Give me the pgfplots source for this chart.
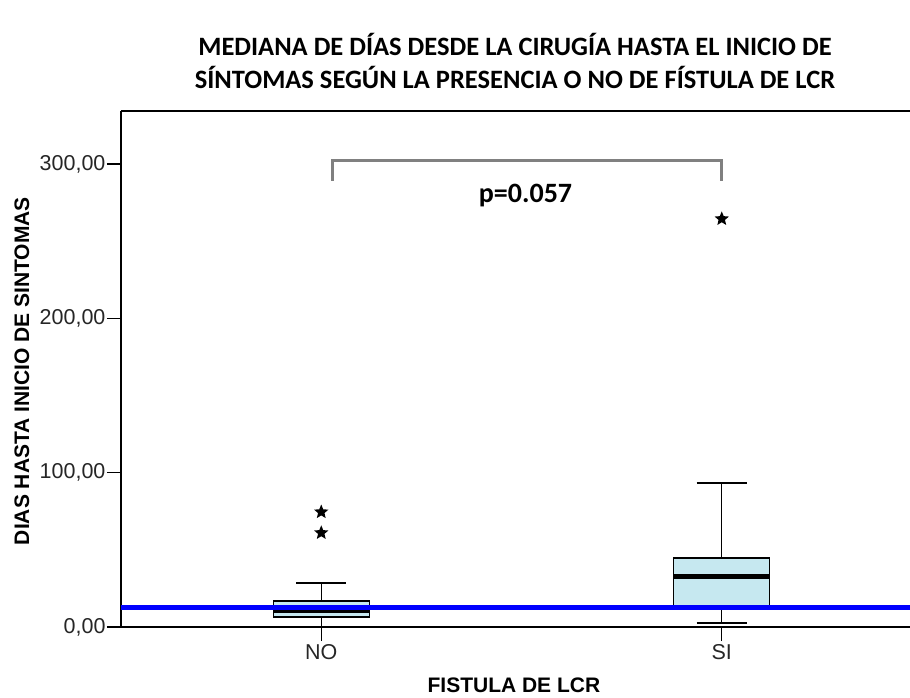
\documentclass[border=0pt]{standalone}
\usepackage{pgfplots}
\pgfplotsset{compat=1.18}
\usepgfplotslibrary{statistics}
\usepackage{fontspec}
\setmainfont{Liberation Sans}
\newfontfamily\calibri{Carlito}

\definecolor{boxfill}{RGB}{198,232,240}
\definecolor{brackgray}{RGB}{128,128,128}
\definecolor{refblue}{RGB}{0,0,255}

% filled five-pointed star for the extreme values
\pgfdeclareplotmark{fstar}{%
  \pgfpathmoveto{\pgfpointpolar{90}{\pgfplotmarksize}}%
  \pgfpathlineto{\pgfpointpolar{126}{0.45*\pgfplotmarksize}}%
  \pgfpathlineto{\pgfpointpolar{162}{\pgfplotmarksize}}%
  \pgfpathlineto{\pgfpointpolar{198}{0.45*\pgfplotmarksize}}%
  \pgfpathlineto{\pgfpointpolar{234}{\pgfplotmarksize}}%
  \pgfpathlineto{\pgfpointpolar{270}{0.45*\pgfplotmarksize}}%
  \pgfpathlineto{\pgfpointpolar{306}{\pgfplotmarksize}}%
  \pgfpathlineto{\pgfpointpolar{342}{0.45*\pgfplotmarksize}}%
  \pgfpathlineto{\pgfpointpolar{18}{\pgfplotmarksize}}%
  \pgfpathlineto{\pgfpointpolar{54}{0.45*\pgfplotmarksize}}%
  \pgfpathclose\pgfusepathqfill}

\begin{document}
\begin{tikzpicture}
\useasboundingbox (-121pt,-71pt) rectangle (789pt,627pt);
\begin{axis}[
  at={(0,0)}, anchor=south west,
  scale only axis, width=789pt, height=516pt,
  xmin=0.5, xmax=2.47, ymin=0, ymax=334.3,
  axis lines*=left,
  axis line style={line width=1.3pt},
  tick align=outside, major tick length=14pt,
  tick style={line width=1.3pt, black},
  xtick={1,2}, xticklabels={NO,SI},
  ytick={0,100,200,300},
  yticklabels={{0,00},{100,00},{200,00},{300,00}},
  ticklabel style={font=\fontsize{21.5}{25}\selectfont, text=black!85},
  yticklabel style={xshift=2pt},
  xlabel={FISTULA DE LCR},
  ylabel={DIAS HASTA INICIO DE SINTOMAS},
  label style={font=\bfseries\fontsize{21}{24}\selectfont},
  xlabel style={at={(axis description cs:0.498,0)}, anchor=base, yshift=-66pt},
  ylabel style={at={(axis description cs:-0.1166,0.496)}, anchor=base, rotate=0},
  clip=false,
  boxplot/draw direction=y,
  boxplot/box extend=0.24,
  boxplot/whisker extend=0.125,
  boxplot/every box/.style={draw=black, line width=1.3pt, fill=boxfill},
  boxplot/every whisker/.style={black, line width=1.3pt},
  boxplot/every median/.style={black, line width=5pt},
]
% NO
\addplot[black, solid, mark=fstar, mark size=7.5pt,
  boxplot prepared={draw position=1, lower whisker=0.5, lower quartile=6.5,
    median=11, upper quartile=16.8, upper whisker=28.5}]
  coordinates {(0,61) (0,74.5)};
% SI
\addplot[black, solid, mark=fstar, mark size=7.5pt,
  boxplot prepared={draw position=2, lower whisker=2.6, lower quartile=12.3,
    median=32.4, upper quartile=44.7, upper whisker=93.3}]
  coordinates {(0,264.4)};
% reference line
\addplot[refblue, line width=4.5pt, forget plot] coordinates {(0.5,12.7) (2.47,12.7)};
% top frame line
\draw[black, line width=1.3pt] (rel axis cs:0,1) -- (rel axis cs:1,1);
% comparison bracket
\draw[brackgray, line width=3pt] (axis cs:1.028,289) -- (axis cs:1.028,302)
  -- (axis cs:2.0,302) -- (axis cs:2.0,289);
\node[font=\calibri\bfseries\fontsize{28}{33}\selectfont, anchor=base]
  at (axis cs:1.51,275) {p=0.057};
\end{axis}
\node[font=\calibri\bfseries\fontsize{26.5}{31}\selectfont, anchor=base] at (394pt,571pt)
  {MEDIANA DE DÍAS DESDE LA CIRUGÍA HASTA EL INICIO DE};
\node[font=\calibri\bfseries\fontsize{26.5}{31}\selectfont, anchor=base] at (394pt,538pt)
  {SÍNTOMAS SEGÚN LA PRESENCIA O NO DE FÍSTULA DE LCR};
\end{tikzpicture}
\end{document}
